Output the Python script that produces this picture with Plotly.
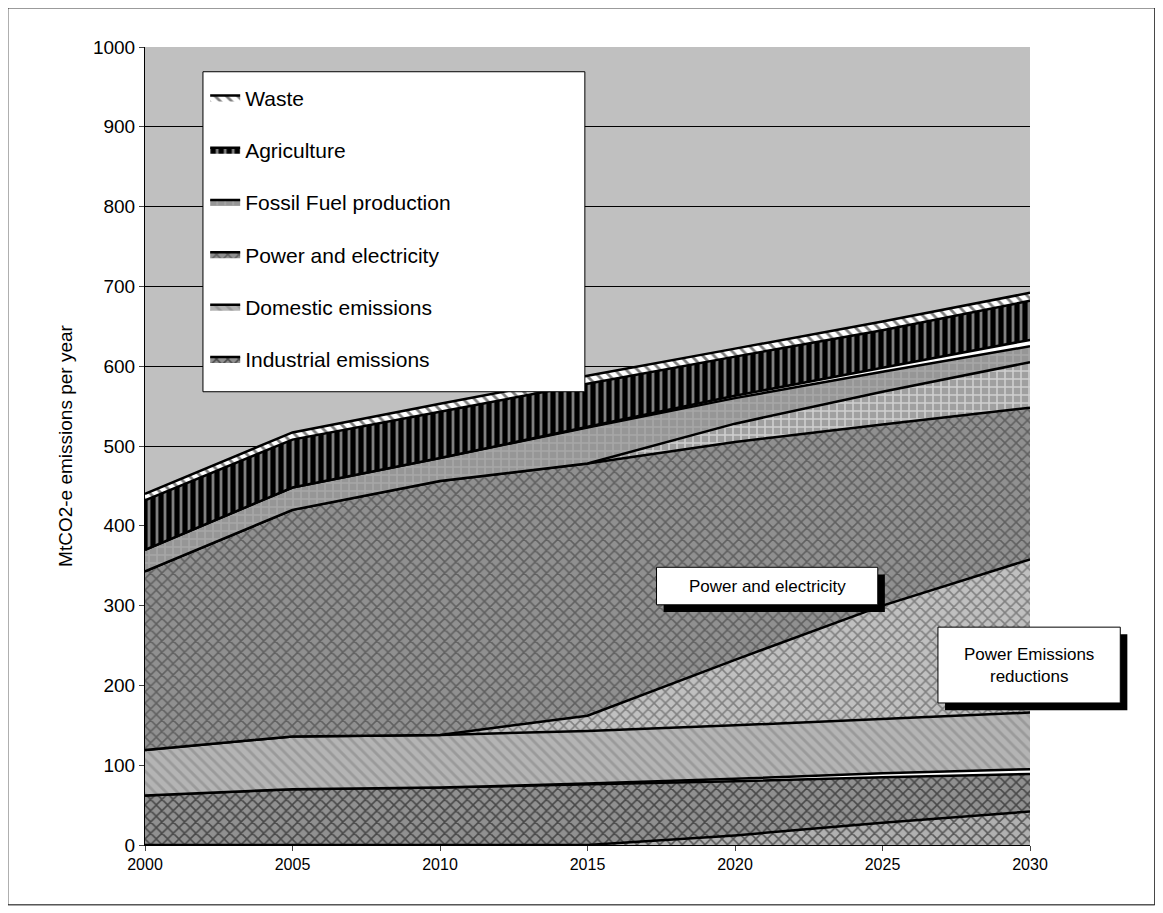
import plotly.graph_objects as go

years = [2000, 2005, 2010, 2015, 2020, 2025, 2030]
# stacked layer tops (MtCO2-e)
ind_red_top   = [0, 0, 0, 0, 12, 28, 42]
ind_top       = [62, 70, 72, 76, 80, 85, 89]
dom_red_top   = [62, 70, 72, 77, 83, 90, 95]
dom_top       = [119, 136, 138, 143, 150, 158, 166]
pow_red_top   = [119, 136, 138, 162, 232, 300, 358]
pow_top       = [343, 420, 456, 478, 505, 527, 548]
ff_red_top    = [343, 420, 456, 478, 528, 568, 605]
ff_top        = [370, 448, 485, 523, 560, 593, 625]
ag_red_top    = [370, 448, 485, 524, 563, 598, 633]
ag_top        = [432, 508, 543, 578, 612, 645, 682]
waste_top     = [440, 517, 553, 588, 622, 656, 692]

layers = [
    ("Industrial reductions", ind_red_top, "#b0b0b0", "x", "#000000", False),
    ("Industrial emissions", ind_top, "#909090", "x", "#000000", True),
    ("Domestic reductions", dom_red_top, "#ffffff", "", "#000000", False),
    ("Domestic emissions", dom_top, "#b4b4b4", "\\", "#808080", True),
    ("Power Emissions reductions", pow_red_top, "#c0c0c0", "x", "#404040", False),
    ("Power and electricity", pow_top, "#909090", "x", "#303030", True),
    ("Fossil Fuel reductions", ff_red_top, "#a0a0a0", "+", "#ffffff", False),
    ("Fossil Fuel production", ff_top, "#969696", "+", "#b8b8b8", True),
    ("Agriculture reductions", ag_red_top, "#ffffff", "", "#000000", False),
    ("Agriculture", ag_top, "#000000", "|", "#ffffff", True),
    ("Waste", waste_top, "#ffffff", "\\", "#000000", True),
]

fig = go.Figure()
prev = [0]*len(years)
for i, (name, top, bg, shape, fg, show) in enumerate(layers):
    vals = [t - p for t, p in zip(top, prev)]
    prev = top
    fp = dict(shape=shape, bgcolor=bg, fgcolor=fg, size=8, solidity=0.35) if shape else None
    fig.add_trace(go.Scatter(
        x=years, y=vals, name=name, stackgroup="one", mode="lines",
        line=dict(color="black", width=2.5), legendgroup=f"g{i}", legendrank=100 - i,
        fillcolor=bg, fillpattern=fp, showlegend=show, hoverinfo="skip"))

shapes = [dict(type="rect", xref="paper", yref="paper", x0=-0.155, x1=1.141,
               y0=-0.075, y1=1.049, line=dict(color="black", width=1)),
          dict(type="rect", xref="paper", yref="paper", x0=0.0655, x1=0.497,
               y0=0.568, y1=0.969, fillcolor="white", line=dict(color="black", width=1))]

def boxed(x0, x1, y0, y1, text):
    shapes.append(dict(type="rect", xref="paper", yref="paper", x0=x0+0.008, x1=x1+0.008,
                       y0=y0-0.009, y1=y1-0.009, fillcolor="black", line=dict(width=0)))
    shapes.append(dict(type="rect", xref="paper", yref="paper", x0=x0, x1=x1,
                       y0=y0, y1=y1, fillcolor="white", line=dict(color="black", width=1)))
    fig.add_annotation(xref="paper", yref="paper", x=(x0+x1)/2, y=(y0+y1)/2, text=text,
                       xanchor="center", yanchor="middle",
                       showarrow=False, font=dict(size=17, color="black"))

boxed(0.578, 0.828, 0.301, 0.348, "Power and electricity")
boxed(0.896, 1.102, 0.178, 0.273, "Power Emissions<br>reductions")

fig.update_layout(
    width=1163, height=913,
    margin=dict(l=137, r=141, t=39, b=76),
    paper_bgcolor="white", plot_bgcolor="#c0c0c0",
    font=dict(family="Liberation Sans, Arial", size=16, color="black"),
    showlegend=True,
    legend=dict(x=0.068, y=0.962, xanchor="left", yanchor="top",
                bgcolor="rgba(0,0,0,0)", borderwidth=0,
                traceorder="grouped", font=dict(size=21),
                itemwidth=30, tracegroupgap=22),
    xaxis=dict(range=[2000, 2030], tickvals=years, ticks="outside",
               showgrid=False, showline=True, linecolor="black", zeroline=False,
               tickfont=dict(size=16)),
    yaxis=dict(range=[0, 1000], dtick=100, ticks="outside",
               showgrid=True, gridcolor="black", gridwidth=1,
               showline=True, linecolor="black", zeroline=False,
               title=dict(text="MtCO2-e emissions per year", font=dict(size=19)),
               tickfont=dict(size=19)),
    shapes=shapes,
)
fig.write_html("out.html")
